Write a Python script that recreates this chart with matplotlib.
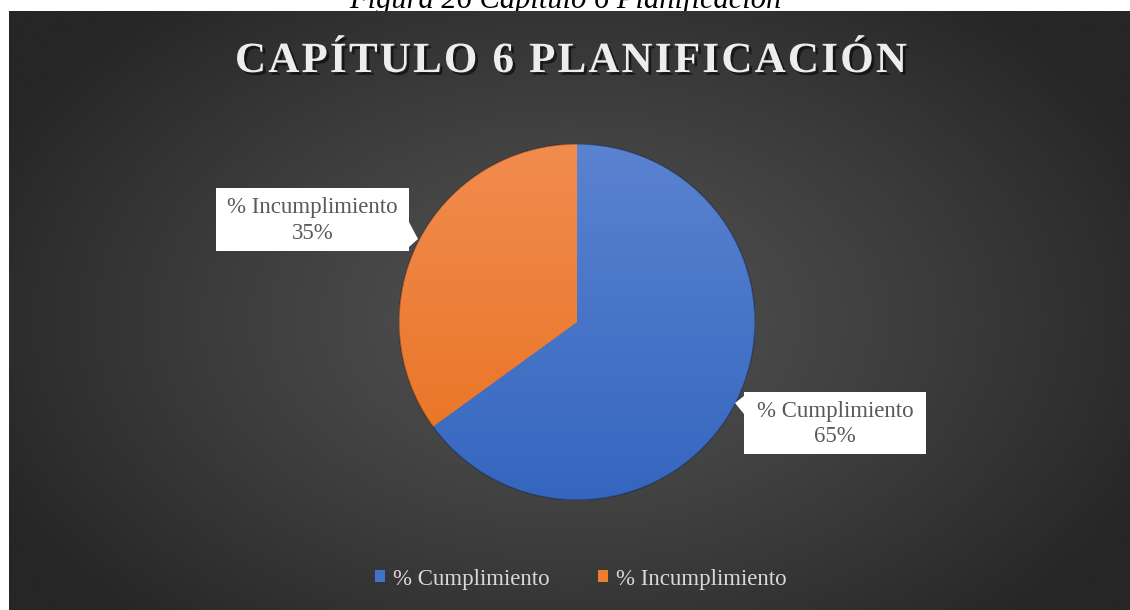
import numpy as np
import matplotlib
matplotlib.use("Agg")
import matplotlib.pyplot as plt
from matplotlib.patches import Polygon, Patch, Circle
from matplotlib.colors import LinearSegmentedColormap
import matplotlib.patheffects as pe

# Data
categories = ['% Cumplimiento', '% Incumplimiento']
values = [65, 35]
colors = ['#4472C4', '#ED7D31']
# (bottom, top) shades used for the soft vertical fill of each slice
shades = [('#3566BF', '#5A83D1'), ('#E9711F', '#F18C4F')]
title = 'CAPÍTULO 6 PLANIFICACIÓN'

W, H = 1130, 610
SERIF = ['Liberation Serif', 'DejaVu Serif']

fig = plt.figure(figsize=(W / 100, H / 100), dpi=100, facecolor='white')
renderer = fig.canvas.get_renderer()


def fx(x):
    return x / W


def fy(y):
    return 1 - y / H


# caption sitting above the chart (mostly cut off at the top)
fig.text(fx(565), fy(8), 'Figura 26 Capítulo 6 Planificación', family=SERIF,
         style='italic', fontsize=22, ha='center', va='baseline',
         color='black', zorder=-1)

# dark panel with a radial gradient
bg = fig.add_axes([fx(9), 0, 1 - fx(9), fy(11)], zorder=0)
gx, gy = np.meshgrid(np.linspace(9, W, 400), np.linspace(11, H, 220))
r = np.sqrt(((gx - 570) / 640) ** 2 + ((gy - 320) / 420) ** 2)
r = np.clip(r, 0, 1) ** 1.2
inner = np.array([0x52, 0x52, 0x52]) / 255
outer = np.array([0x26, 0x26, 0x26]) / 255
img = inner[None, None, :] * (1 - r[..., None]) + outer[None, None, :] * r[..., None]
bg.imshow(img, extent=(9, W, H, 11), aspect='auto', interpolation='bilinear')
bg.set_xlim(9, W)
bg.set_ylim(H, 11)
bg.axis('off')

# letter-spaced title, one glyph at a time
tkw = dict(family=SERIF, fontweight='bold', fontsize=31, color='#EDEDED',
           va='baseline', ha='left', zorder=3,
           path_effects=[pe.withSimplePatchShadow(offset=(2, -2),
                                                  shadow_rgbFace='black',
                                                  alpha=0.55)])


def text_width(s):
    t = fig.text(0, 0, s, **tkw)
    wdt = t.get_window_extent(renderer).width
    t.remove()
    return wdt


x0, x1 = 235, 907
natural = text_width(title)
gap = (x1 - x0 - natural) / (len(title) - 1)
for i, ch in enumerate(title):
    if ch == ' ':
        continue
    left = text_width(title[:i + 1]) - text_width(ch)
    fig.text(fx(x0 + left + i * gap), fy(72), ch, **tkw)

# pie
cx, cy, rad = 577, 322, 178
ax = fig.add_axes([fx(cx - rad), fy(cy + rad), 2 * rad / W, 2 * rad / H], zorder=1)
wedges, _ = ax.pie(values, colors=colors, startangle=90, counterclock=False,
                   radius=1, wedgeprops=dict(linewidth=0))
grad = np.linspace(0, 1, 256).reshape(-1, 1)
for w, (lo, hi) in zip(wedges, shades):
    cmap = LinearSegmentedColormap.from_list('fill', [lo, hi])
    im = ax.imshow(grad, cmap=cmap, extent=(-1, 1, -1, 1), origin='lower',
                   aspect='auto', zorder=2)
    im.set_clip_path(w)
ax.add_patch(Circle((0, 0), 1, facecolor='none', edgecolor=(0, 0, 0, 0.3),
                    linewidth=1, zorder=3))
ax.set_xlim(-1, 1)
ax.set_ylim(-1, 1)
ax.set_aspect('equal')
ax.axis('off')

# data labels in white callout boxes
callouts = [
    # box left, top, right, bottom, pointer polygon (pixels)
    (744, 392, 926, 454, [(744, 396), (735, 403), (744, 414)]),
    (216, 188, 409, 251, [(409, 222), (418, 239), (409, 247)]),
]
for (l, t, rgt, b, ptr), cat, v in zip(callouts, categories, values):
    box = Polygon([(fx(l), fy(t)), (fx(rgt), fy(t)), (fx(rgt), fy(b)), (fx(l), fy(b))],
                  closed=True, transform=fig.transFigure, facecolor='white',
                  edgecolor='none', zorder=2)
    tip = Polygon([(fx(x), fy(y)) for x, y in ptr], closed=True,
                  transform=fig.transFigure, facecolor='white',
                  edgecolor='none', zorder=2)
    fig.add_artist(box)
    fig.add_artist(tip)
    fig.text(fx((l + rgt) / 2), fy((t + b) / 2 + 1), f'{cat}\n{v}%', family=SERIF,
             fontsize=16.5, color='#595959', ha='center', va='center',
             multialignment='center', linespacing=1.3, zorder=3)

# legend
handles = [Patch(facecolor=c, edgecolor='none') for c in colors]
fig.legend(handles, categories, loc='center', bbox_to_anchor=(fx(581), fy(579)),
           ncol=2, frameon=False, handlelength=0.45, handleheight=0.45,
           handletextpad=0.35, columnspacing=2.1, labelcolor='#D9D9D9',
           prop=dict(family=SERIF, size=16.5))

fig.savefig('out.png', dpi=100, facecolor='white')
